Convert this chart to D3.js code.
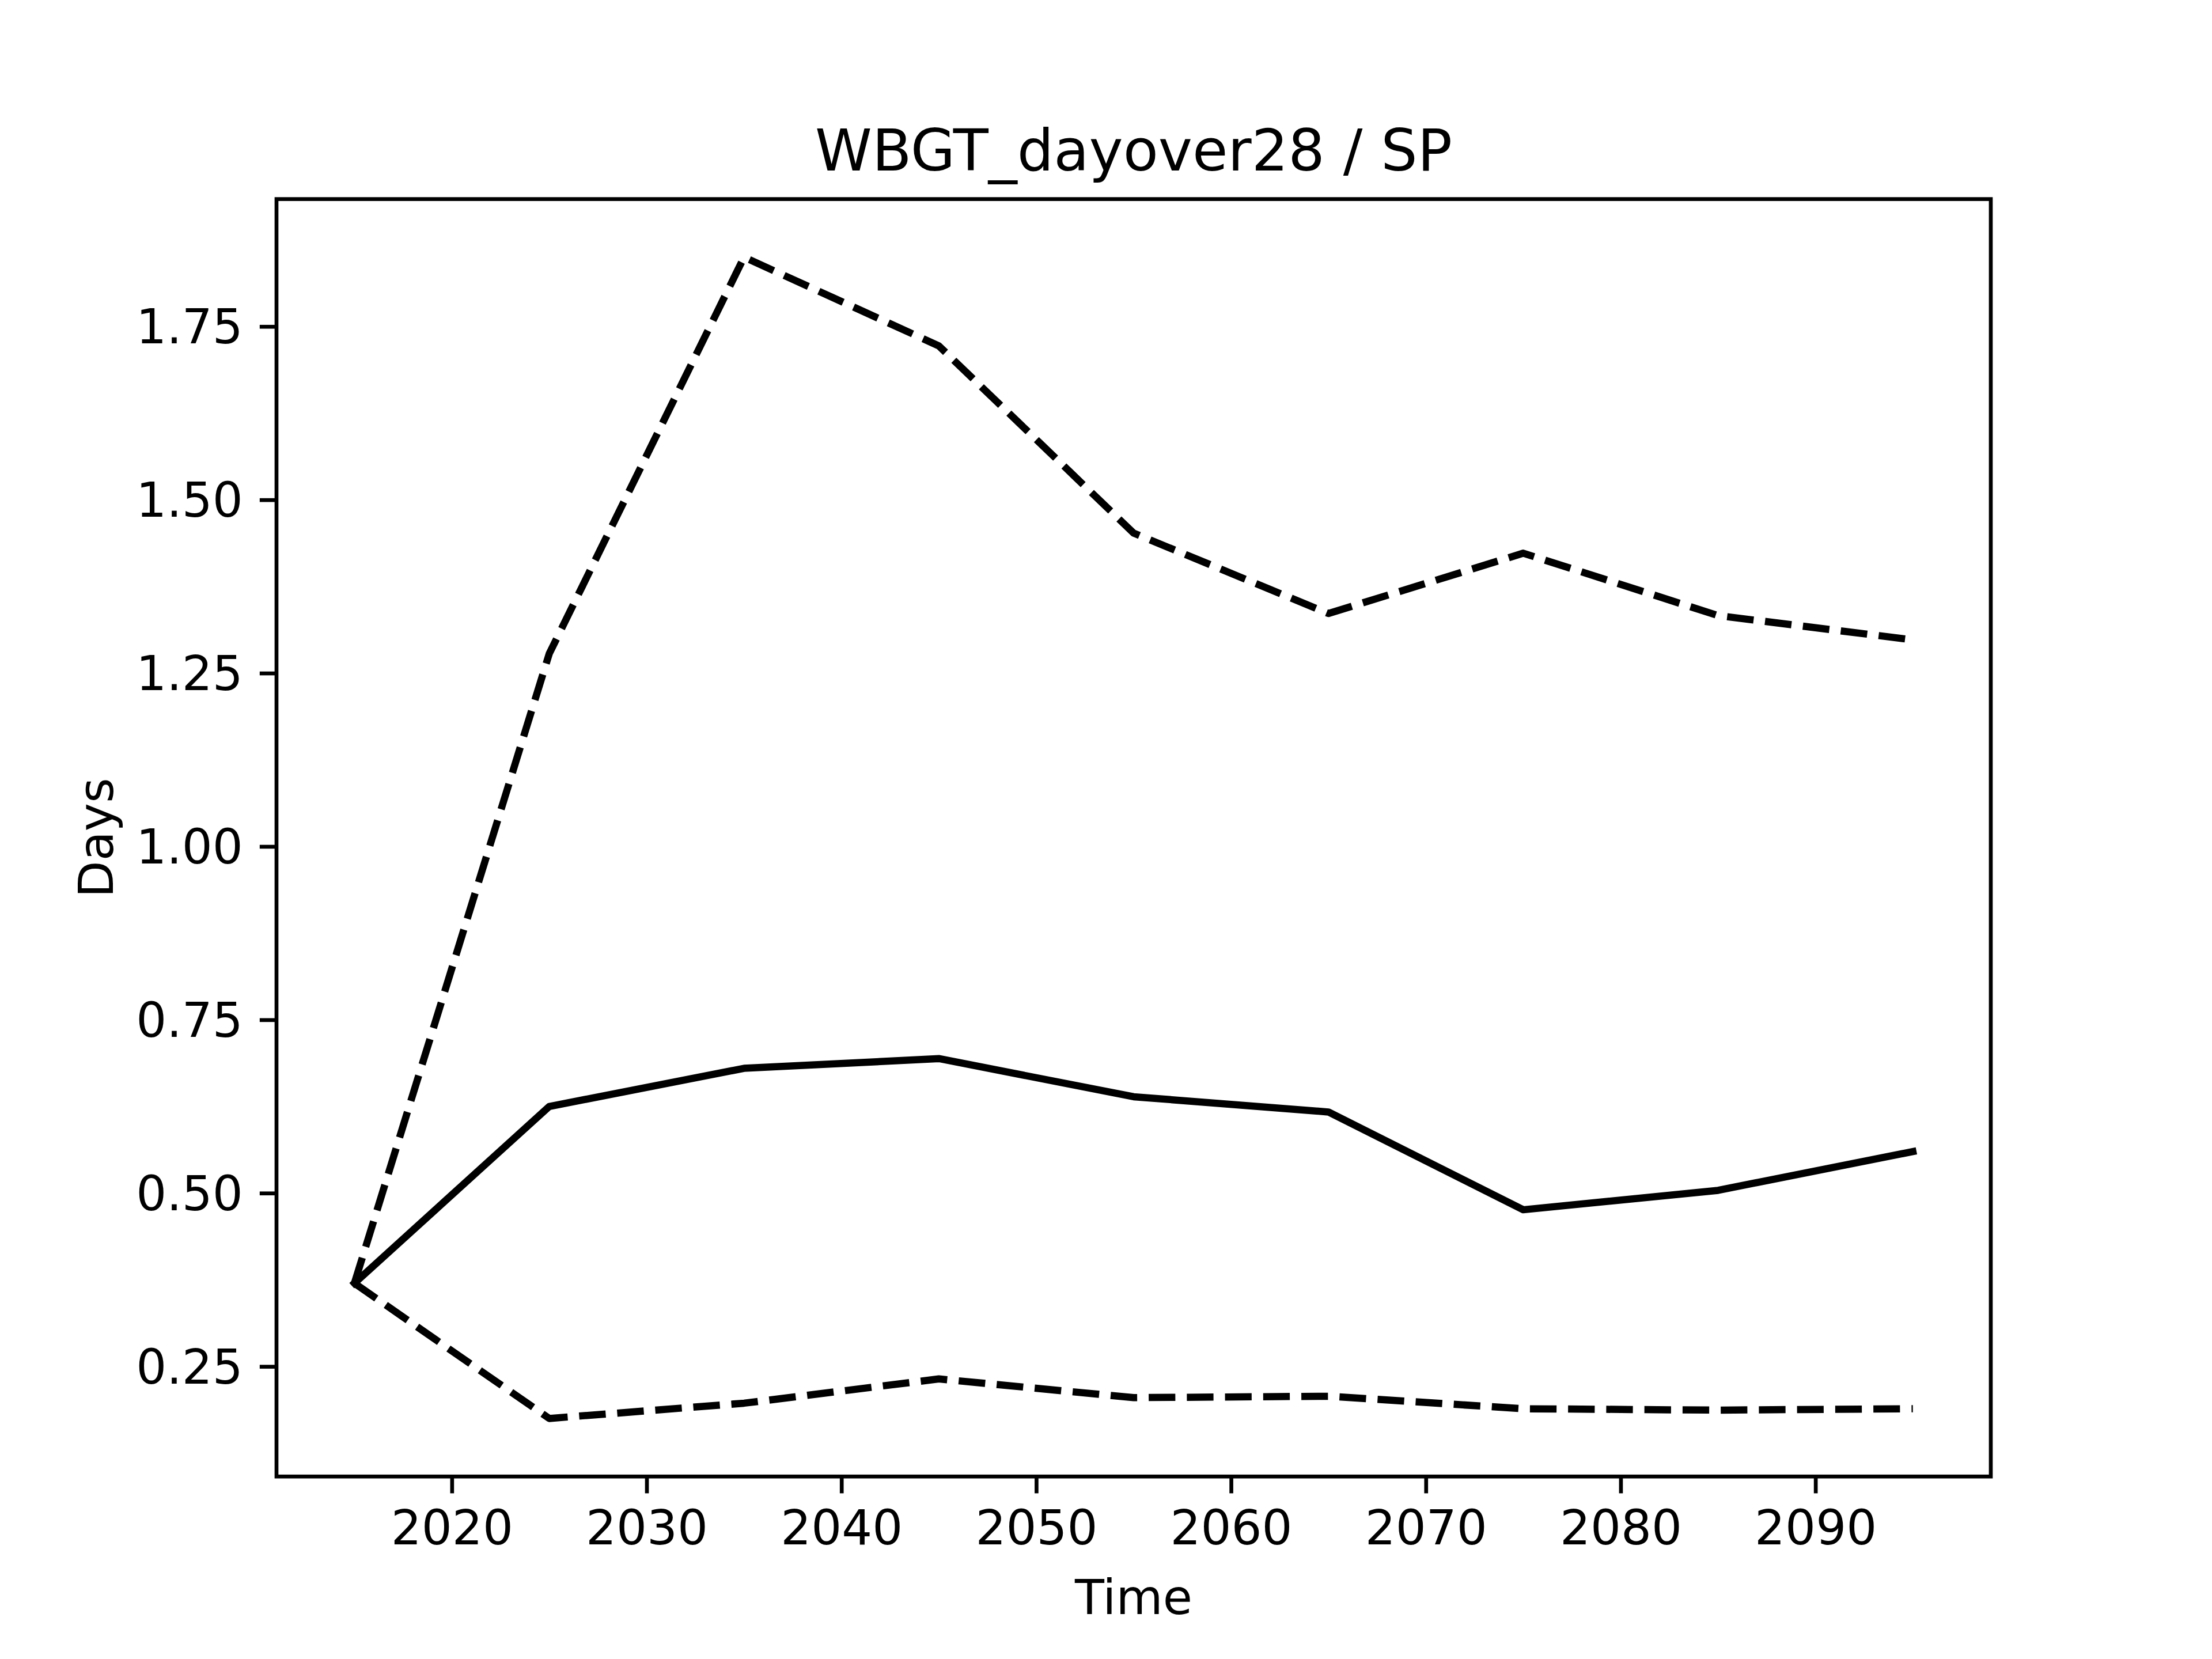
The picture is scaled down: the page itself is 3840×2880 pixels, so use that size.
<!DOCTYPE html>
<html>
<head>
<meta charset="utf-8">
<script src="https://cdn.jsdelivr.net/npm/d3@7"></script>
<style>
  html, body { margin: 0; padding: 0; background: #ffffff; }
  svg { display: block; }
  text { font-family: "DejaVu Sans", sans-serif; fill: #000; }
</style>
</head>
<body>
<svg id="chart" width="3840" height="2880"></svg>
<script>
// ---- data ----
const years = [2015, 2025, 2035, 2045, 2055, 2065, 2075, 2085, 2095];
const meanValues  = [0.370, 0.625, 0.680, 0.694, 0.639, 0.617, 0.476, 0.504, 0.560];
const upperValues = [0.370, 1.278, 1.850, 1.722, 1.452, 1.336, 1.423, 1.333, 1.298];
const lowerValues = [0.370, 0.175, 0.197, 0.232, 0.205, 0.207, 0.189, 0.187, 0.189];
const xTicks = [2020, 2030, 2040, 2050, 2060, 2070, 2080, 2090];
const yTicks = [0.25, 0.50, 0.75, 1.00, 1.25, 1.50, 1.75];
const titleText = "WBGT_dayover28 / SP";
const xLabel = "Time";
const yLabel = "Days";

(function () {
  // ---- layout (matplotlib 6.4x4.8in @600dpi) ----
  const W = 3840, H = 2880;
  const pL = 480, pR = 3456, pT = 345.6, pB = 2563.2;
  const pt = 600 / 72;
  const fontSize = 10 * pt;
  const lineW = 1.5 * pt;
  const spineW = 0.8 * pt;
  const tickLen = 3.5 * pt;
  const tickPad = 3.5 * pt;

  const svg = d3.select("#chart");
  svg.append("rect").attr("width", W).attr("height", H).attr("fill", "#fff");

  // scales with matplotlib-like 5% margins
  const xMin = d3.min(years), xMax = d3.max(years);
  const xm = (xMax - xMin) * 0.05;
  const allY = meanValues.concat(upperValues, lowerValues);
  const yMin = d3.min(allY), yMax = d3.max(allY);
  const ym = (yMax - yMin) * 0.05;

  const x = d3.scaleLinear().domain([xMin - xm, xMax + xm]).range([pL, pR]);
  const y = d3.scaleLinear().domain([yMin - ym, yMax + ym]).range([pB, pT]);

  const line = d3.line().x((d, i) => x(years[i])).y(d => y(d));

  const g = svg.append("g");
  [upperValues, lowerValues].forEach(vals => {
    g.append("path")
      .attr("d", line(vals))
      .attr("fill", "none")
      .attr("stroke", "#000")
      .attr("stroke-width", lineW)
      .attr("stroke-dasharray", `${3.7 * 1.5 * pt} ${1.6 * 1.5 * pt}`)
      .attr("stroke-linejoin", "round")
      .attr("stroke-linecap", "butt");
  });
  g.append("path")
    .attr("d", line(meanValues))
    .attr("fill", "none")
    .attr("stroke", "#000")
    .attr("stroke-width", lineW)
    .attr("stroke-linejoin", "round")
    .attr("stroke-linecap", "square");

  // axes
  const xAxis = d3.axisBottom(x).tickValues(xTicks).tickFormat(d3.format("d"))
    .tickSize(tickLen).tickPadding(tickPad);
  const yAxis = d3.axisLeft(y).tickValues(yTicks).tickFormat(d3.format(".2f"))
    .tickSize(tickLen).tickPadding(tickPad);

  const gx = svg.append("g").attr("transform", `translate(0,${pB})`).call(xAxis);
  const gy = svg.append("g").attr("transform", `translate(${pL},0)`).call(yAxis);
  [gx, gy].forEach(a => {
    a.select(".domain").remove();
    a.selectAll(".tick line").attr("stroke", "#000").attr("stroke-width", spineW);
    a.selectAll(".tick text").attr("font-size", fontSize)
      .attr("font-family", "DejaVu Sans").attr("fill", "#000");
  });
  gy.selectAll(".tick text").attr("dy", "0.35em");

  // spines
  svg.append("rect")
    .attr("x", pL).attr("y", pT)
    .attr("width", pR - pL).attr("height", pB - pT)
    .attr("fill", "none").attr("stroke", "#000").attr("stroke-width", spineW);

  // title
  svg.append("text")
    .attr("x", (pL + pR) / 2).attr("y", pT - 6 * pt)
    .attr("text-anchor", "middle")
    .attr("font-size", 12 * pt)
    .text(titleText);

  // x label
  svg.append("text")
    .attr("x", (pL + pR) / 2).attr("y", 2802)
    .attr("text-anchor", "middle")
    .attr("font-size", fontSize)
    .text(xLabel);

  // y label
  svg.append("text")
    .attr("transform", `translate(196,${(pT + pB) / 2}) rotate(-90)`)
    .attr("text-anchor", "middle")
    .attr("font-size", fontSize)
    .text(yLabel);
})();
</script>
</body>
</html>
